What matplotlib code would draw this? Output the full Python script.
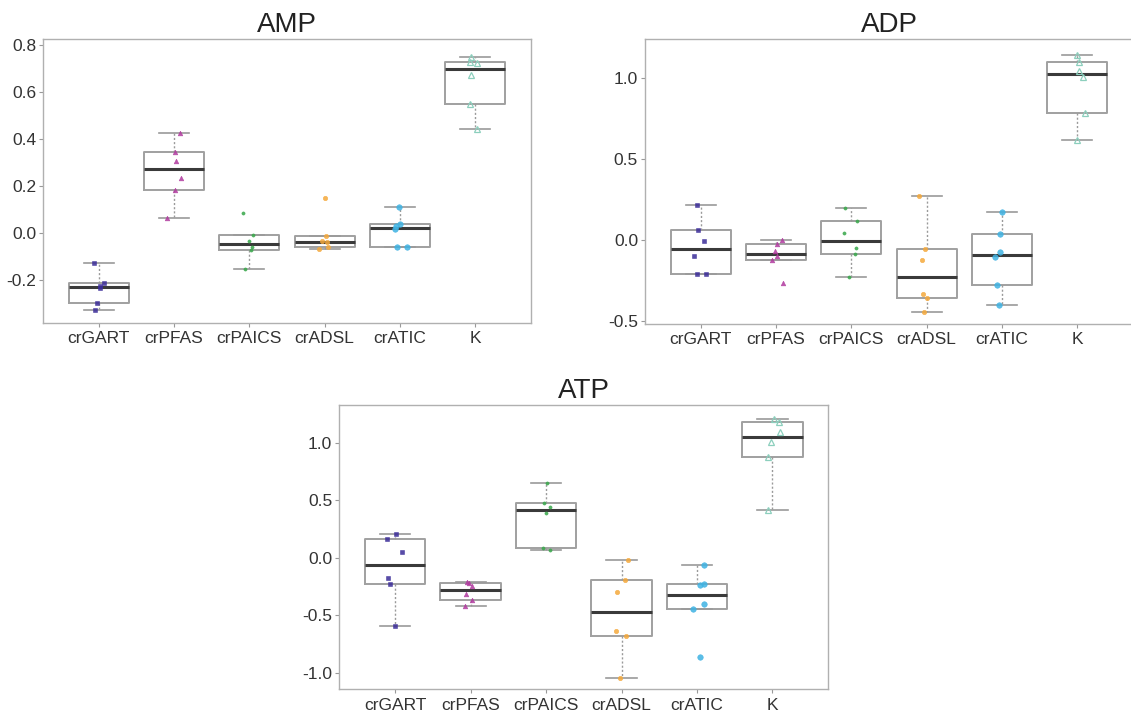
import numpy as np
import matplotlib
matplotlib.use("Agg")
import matplotlib.pyplot as plt

plt.rcParams["font.family"] = ["Liberation Sans", "DejaVu Sans"]
plt.rcParams["axes.unicode_minus"] = False

groups = ["crGART", "crPFAS", "crPAICS", "crADSL", "crATIC", "K"]

# values, one list per group
amp = [
    [-0.129, -0.214, -0.226, -0.235, -0.299, -0.329],
    [0.424, 0.345, 0.308, 0.235, 0.182, 0.063],
    [0.086, -0.010, -0.034, -0.058, -0.072, -0.155],
    [0.150, -0.011, -0.035, -0.040, -0.061, -0.068],
    [0.112, 0.040, 0.028, 0.017, -0.061, -0.061],
    [0.750, 0.726, 0.722, 0.672, 0.549, 0.444],
]
adp = [
    [0.214, 0.058, -0.010, -0.099, -0.212, -0.212],
    [-0.002, -0.029, -0.072, -0.103, -0.123, -0.270],
    [0.197, 0.118, 0.040, -0.051, -0.088, -0.232],
    [0.269, -0.056, -0.125, -0.333, -0.362, -0.444],
    [0.170, 0.036, -0.074, -0.109, -0.278, -0.405],
    [1.140, 1.097, 1.043, 1.006, 0.784, 0.614],
]
atp = [
    [0.206, 0.160, 0.047, -0.174, -0.228, -0.590],
    [-0.214, -0.220, -0.246, -0.315, -0.367, -0.422],
    [0.651, 0.477, 0.437, 0.385, 0.081, 0.069],
    [-0.023, -0.191, -0.300, -0.636, -0.680, -1.044],
    [-0.061, -0.231, -0.240, -0.399, -0.445, -0.865],
    [1.201, 1.181, 1.089, 1.004, 0.871, 0.414],
]

# horizontal jitter of each point, as seen in the picture
amp_jit = [
    [-0.057, 0.066, 0.013, 0.013, -0.026, -0.053],
    [0.079, 0.013, 0.031, 0.093, 0.018, -0.088],
    [-0.088, 0.049, 0.0, 0.031, 0.022, -0.053],
    [0.004, 0.022, -0.031, 0.035, 0.040, -0.075],
    [-0.013, 0.004, -0.057, -0.062, -0.040, 0.088],
    [-0.053, -0.075, 0.022, -0.053, -0.071, 0.022],
]
adp_jit = [
    [-0.044, -0.035, 0.049, -0.088, -0.044, 0.075],
    [0.080, 0.009, -0.018, 0.009, -0.058, 0.097],
    [-0.088, 0.071, -0.093, 0.058, 0.049, -0.031],
    [-0.097, -0.018, -0.062, -0.044, 0.004, -0.031],
    [0.004, -0.031, -0.022, -0.097, -0.066, -0.044],
    [0.0, 0.018, 0.027, 0.071, 0.102, -0.004],
]
atp_jit = [
    [0.013, -0.107, 0.089, -0.089, -0.063, 0.004],
    [-0.049, -0.027, 0.013, -0.063, 0.013, -0.080],
    [0.013, -0.027, 0.049, 0.0, -0.040, 0.058],
    [0.089, 0.045, -0.063, -0.071, 0.063, -0.022],
    [0.098, 0.098, 0.036, 0.098, -0.054, 0.045],
    [0.018, 0.085, 0.094, -0.022, -0.054, -0.054],
]

colors = ["#3b2c98", "#b13a9f", "#3aa84c", "#f5a93c", "#3fb3e3", "#8ccfbd"]
markers = ["s", "^", "o", "o", "o", "^"]
msizes = [3.2, 3.4, 2.3, 3.2, 4.0, 4.5]


def box_stats(vals):
    # Tukey hinges like R's boxplot
    v = np.sort(np.array(vals))
    n = len(v)
    q1 = np.median(v[:(n + 1) // 2])
    q3 = np.median(v[n // 2:])
    iqr = q3 - q1
    lo = v[v >= q1 - 1.5 * iqr].min()
    hi = v[v <= q3 + 1.5 * iqr].max()
    return dict(med=np.median(v), q1=q1, q3=q3, whislo=lo, whishi=hi, fliers=[])


def panel(ax, data, jit, title, ylim, yticks):
    pos = np.arange(1, len(groups) + 1)
    ax.bxp([box_stats(d) for d in data], positions=pos, widths=0.8,
           capwidths=0.4, showfliers=False, patch_artist=False,
           boxprops=dict(color="#a0a0a0", lw=1.4),
           medianprops=dict(color="#3a3a3a", lw=2.2),
           whiskerprops=dict(color="#9a9a9a", lw=1.0, ls=(0, (1.5, 1.5))),
           capprops=dict(color="#9a9a9a", lw=1.2))
    for i, (d, j) in enumerate(zip(data, jit)):
        x = pos[i] + np.array(j)
        if i == 5:
            ax.plot(x, d, ls="none", marker=markers[i], ms=msizes[i],
                    mfc="none", mec=colors[i], mew=0.9, zorder=3)
        else:
            ax.plot(x, d, ls="none", marker=markers[i], ms=msizes[i],
                    mfc=colors[i], mec=colors[i], mew=0.4, alpha=0.85, zorder=3)
    ax.set_xlim(0.26, 6.74)
    ax.set_ylim(*ylim)
    ax.set_xticks(pos)
    ax.set_xticklabels(groups)
    ax.set_yticks(yticks)
    ax.set_yticklabels([f"{t:.1f}" for t in yticks])
    ax.tick_params(length=3, width=0.8, color="#999999", labelsize=12.5,
                   labelcolor="#333333", pad=2)
    ax.tick_params(axis="x", pad=3)
    for s in ax.spines.values():
        s.set_color("#b0b0b0")
        s.set_linewidth(1.0)
    ax.set_title(title, fontsize=20, color="#222222", pad=5)


fig = plt.figure(figsize=(11.31, 7.13), dpi=100)
ax1 = fig.add_axes([0.038, 0.547, 0.4315, 0.398])
ax2 = fig.add_axes([0.5703, 0.5456, 0.4315, 0.3997])
ax3 = fig.add_axes([0.300, 0.0332, 0.4324, 0.3987])

panel(ax1, amp, amp_jit, "AMP", (-0.383, 0.825), [-0.2, 0.0, 0.2, 0.4, 0.6, 0.8])
panel(ax2, adp, adp_jit, "ADP", (-0.52, 1.239), [-0.5, 0.0, 0.5, 1.0])
panel(ax3, atp, atp_jit, "ATP", (-1.142, 1.326), [-1.0, -0.5, 0.0, 0.5, 1.0])

fig.savefig("out.png", dpi=100)
